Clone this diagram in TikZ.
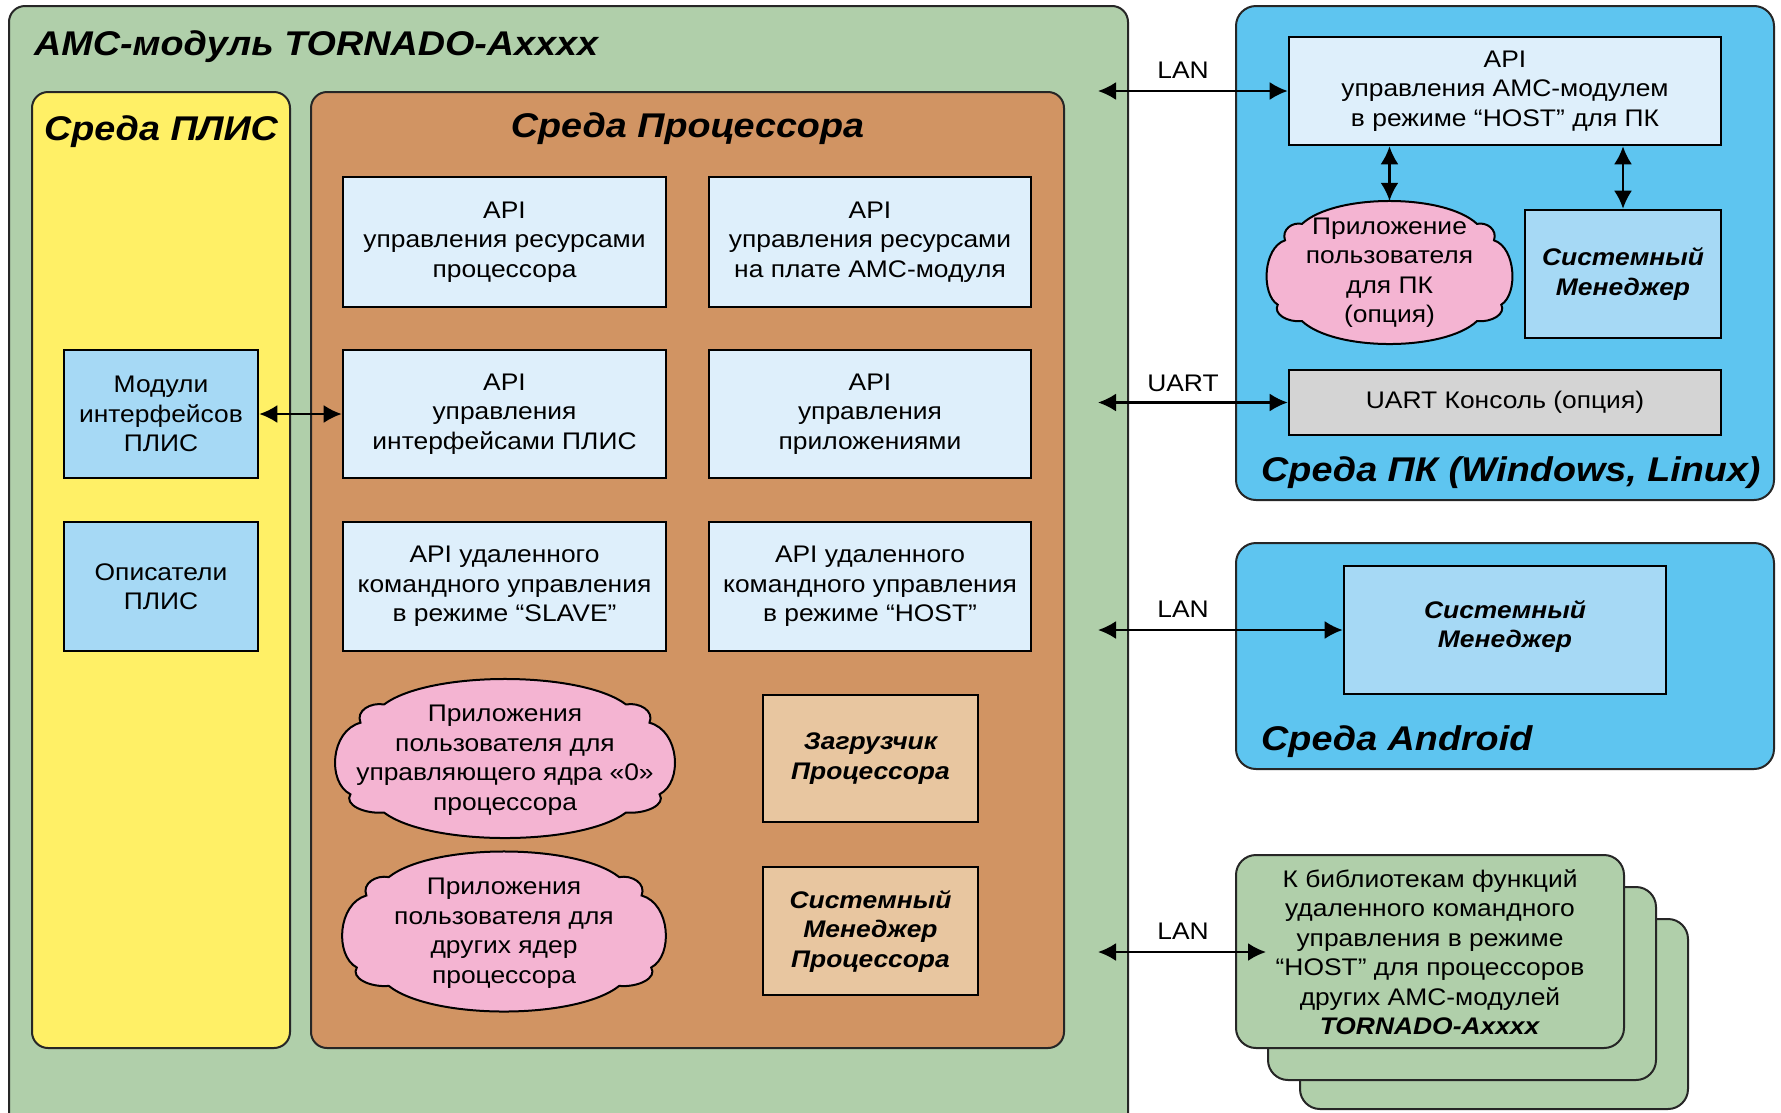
\documentclass[tikz,border=0pt]{standalone}
\usepackage{fontspec}
\setmainfont{Liberation Sans}[FakeStretch=1.1]
\usetikzlibrary{arrows.meta}
\definecolor{outergreen}{RGB}{176,207,170}
\definecolor{yellowfill}{RGB}{255,240,102}
\definecolor{brownfill}{RGB}{209,148,99}
\definecolor{apifill}{RGB}{222,239,251}
\definecolor{modfill}{RGB}{166,217,245}
\definecolor{pinkfill}{RGB}{244,180,210}
\definecolor{beigefill}{RGB}{232,198,160}
\definecolor{pcblue}{RGB}{94,197,240}
\definecolor{uartgray}{RGB}{212,212,212}
\newcommand{\mycloud}[4]{%
  \begin{scope}[shift={(#1,#2)},xscale=#3,yscale=-#4]
    \filldraw[cloudline] (-0.72,0.68) .. controls (-0.45,1.107) and (0.45,1.107) .. (0.72,0.68)
      .. controls (0.80,0.71) and (0.89,0.60) .. (0.86,0.45)
      .. controls (1.04,0.35) and (1.06,-0.30) .. (0.92,-0.45)
      .. controls (0.96,-0.58) and (0.84,-0.70) .. (0.72,-0.68)
      .. controls (0.45,-1.107) and (-0.45,-1.107) .. (-0.72,-0.68)
      .. controls (-0.84,-0.70) and (-0.96,-0.58) .. (-0.92,-0.45)
      .. controls (-1.06,-0.30) and (-1.04,0.35) .. (-0.86,0.45)
      .. controls (-0.89,0.60) and (-0.80,0.71) .. (-0.72,0.68) -- cycle;
  \end{scope}}
\tikzset{
  envbox/.style={draw=black!85, line width=2pt, rounded corners=16pt},
  boxbase/.style={draw=black, line width=2.6pt, inner sep=0pt, align=center,
    font=\fontsize{24}{29.5}\selectfont},
  apibox/.style={boxbase, fill=apifill},
  modbox/.style={boxbase, fill=modfill},
  beigebox/.style={boxbase, fill=beigefill, font=\bfseries\itshape\fontsize{24}{29.5}\selectfont},
  sysbox/.style={boxbase, fill=modfill, font=\bfseries\itshape\fontsize{24}{29.5}\selectfont},
  uartbox/.style={boxbase, fill=uartgray},
  cloudline/.style={draw=black, line width=2pt, fill=pinkfill},
  cloudtext/.style={inner sep=0pt, align=center, font=\fontsize{24}{29.5}\selectfont},
  envtitle/.style={inner sep=0pt, font=\bfseries\itshape\fontsize{34.3}{40}\selectfont},
  lbl/.style={inner sep=0pt, font=\fontsize{24}{29.5}\selectfont},
  conn/.style={line width=2.3pt, {Latex[length=18pt,width=18pt]}-{Latex[length=18pt,width=18pt]}},
}
\begin{document}
\begin{tikzpicture}[x=1pt,y=-1pt]
\useasboundingbox (0,0) rectangle (1781,1112);
\fill[white] (0,0) rectangle (1781,1112);
\clip (0,0) rectangle (1781,1112);

% ---------- AMC module ----------
\draw[envbox, fill=outergreen] (9,6) rectangle (1128,1135);
\node[envtitle, anchor=base west] (title) at (34,55) {АМС-модуль TORNADO-Axxxx};

\draw[envbox, fill=yellowfill] (32,92) rectangle (290,1048);
\node[envtitle, anchor=base] (plis) at (161,140) {Среда ПЛИС};

\draw[envbox, fill=brownfill] (311,92) rectangle (1064,1048);
\node[envtitle, anchor=base] (proc) at (687.5,137) {Среда Процессора};

\node[apibox, minimum width=323pt, minimum height=130pt] (a11) at (504.5,242)
  {API\\управления ресурсами\\процессора};
\node[apibox, minimum width=322pt, minimum height=130pt] (a12) at (870,242)
  {API\\управления ресурсами\\на плате АМС-модуля};
\node[apibox, minimum width=323pt, minimum height=128pt] (a21) at (504.5,414)
  {API\\управления\\интерфейсами ПЛИС};
\node[apibox, minimum width=322pt, minimum height=128pt] (a22) at (870,414)
  {API\\управления\\приложениями};
\node[apibox, minimum width=323pt, minimum height=129pt] (a31) at (504.5,586.5)
  {API удаленного\\командного управления\\в режиме “SLAVE”};
\node[apibox, minimum width=322pt, minimum height=129pt] (a32) at (870,586.5)
  {API удаленного\\командного управления\\в режиме “HOST”};

\node[modbox, minimum width=194pt, minimum height=128pt] (m1) at (161,414)
  {Модули\\интерфейсов\\ПЛИС};
\node[modbox, minimum width=194pt, minimum height=129pt] (m2) at (161,586.5)
  {Описатели\\ПЛИС};

\mycloud{505}{758.5}{168}{79.5}
\node[cloudtext] (c1) at (505,760)
  {Приложения\\пользователя для\\управляющего ядра «0»\\процессора};
\mycloud{504}{931.5}{160}{80}
\node[cloudtext] (c2) at (504,933)
  {Приложения\\пользователя для\\других ядер\\процессора};

\node[beigebox, minimum width=215pt, minimum height=127pt] (z1) at (870.5,758.5)
  {Загрузчик\\Процессора};
\node[beigebox, minimum width=215pt, minimum height=128pt] (z2) at (870.5,931)
  {Системный\\Менеджер\\Процессора};

\draw[conn] (m1.east) -- (a21.west);

% ---------- PC environment ----------
\draw[envbox, rounded corners=20pt, fill=pcblue] (1236,6) rectangle (1774,500);
\node[apibox, minimum width=432pt, minimum height=108pt] (pcapi) at (1505,91)
  {API\\управления АМС-модулем\\в режиме “HOST” для ПК};
\mycloud{1389.5}{272.5}{121.5}{71.5}
\node[cloudtext, minimum width=243pt, minimum height=143pt] (pccloud) at (1389.5,272.5)
  {Приложение\\пользователя\\для ПК\\(опция)};
\node[sysbox, minimum width=196pt, minimum height=128pt] (pcsys) at (1623,274)
  {Системный\\Менеджер};
\node[uartbox, minimum width=432pt, minimum height=65pt] (uart) at (1505,402.5)
  {UART Консоль (опция)};
\node[envtitle, anchor=base west] (pctitle) at (1261,481) {Среда ПК (Windows, Linux)};

\draw[conn] (pcapi.south -| pccloud.north) -- (pccloud.north);
\draw[conn] (pcapi.south -| pcsys.north) -- (pcsys.north);

% ---------- Android ----------
\draw[envbox, rounded corners=20pt, fill=pcblue] (1236,543) rectangle (1774,769);
\node[sysbox, minimum width=322pt, minimum height=128pt, text depth=12pt] (andsys) at (1505,630)
  {Системный\\Менеджер};
\node[envtitle, anchor=base west] (andtitle) at (1261,750) {Среда Android};

% ---------- Stack of other modules ----------
\draw[envbox, rounded corners=20pt, fill=outergreen] (1300,919) rectangle (1688,1109);
\draw[envbox, rounded corners=20pt, fill=outergreen] (1268,887) rectangle (1656,1080);
\draw[envbox, rounded corners=20pt, fill=outergreen] (1236,855) rectangle (1624,1048);
\node[cloudtext] (stack) at (1430,952)
  {К библиотекам функций\\удаленного командного\\управления в режиме\\“HOST” для процессоров\\других АМС-модулей\\\textbf{\textit{TORNADO-Axxxx}}};

% ---------- external links ----------
\coordinate (lan1) at (1098,91);
\coordinate (uartl) at (1098,402.5);
\coordinate (lan2) at (1098,630);
\coordinate (lan3) at (1098,952);
\coordinate (lan3end) at (1266,952);
\draw[conn] (lan1) -- (pcapi.west);
\draw[conn] (uartl) -- (uart.west);
\draw[conn] (lan2) -- (andsys.west);
\draw[conn] (lan3) -- (lan3end);
\node[lbl] (llan1) at (1183,70) {LAN};
\node[lbl] (luart) at (1183,383) {UART};
\node[lbl] (llan2) at (1183,609) {LAN};
\node[lbl] (llan3) at (1183,931) {LAN};
\end{tikzpicture}
\end{document}
